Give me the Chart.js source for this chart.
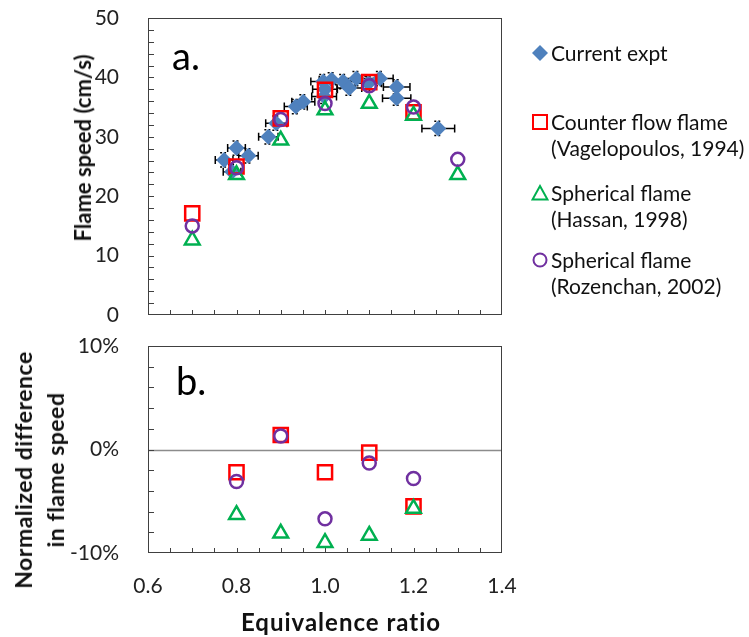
<!DOCTYPE html>
<html>
<head>
<meta charset="utf-8">
<script src="https://cdn.jsdelivr.net/npm/chart.js@4.4.1/dist/chart.umd.min.js"></script>
<style>
  body { margin: 0; background: #fff; font-family: Lato, sans-serif; }
  #wrap { position: relative; width: 749px; height: 637px; overflow: hidden; }
  .panel { position: absolute; left: 0; }
  .txt { position: absolute; white-space: nowrap; color: #111; }
  .rot { transform: translate(-50%, -50%) rotate(-90deg); text-align: center; }
  .title { font-weight: bold; line-height: 32px; }
  .leg { font-size: 21px; line-height: 26px; left: 551px; }
  .mk { position: absolute; left: 531px; width: 18px; height: 18px; }
</style>
</head>
<body>
<div id="wrap">
  <div class="panel" style="top:0"><canvas id="top" width="749" height="330"></canvas></div>
  <div class="panel" style="top:330px"><canvas id="bottom" width="749" height="307"></canvas></div>

  <div class="txt title rot" style="left:83px;top:148px;font-size:22px">Flame speed (cm/s)</div>
  <div class="txt title rot" style="left:39px;top:470px;font-size:23px;letter-spacing:0.5px">Normalized difference<br>in flame speed</div>
  <div class="txt title" style="left:341px;top:622px;font-size:24px;letter-spacing:1px;transform:translate(-50%,-50%)">Equivalence ratio</div>

  <svg class="mk" style="top:44px" viewBox="0 0 18 18"><path d="M9 1 L17 9 L9 17 L1 9 Z" fill="#4F81BD"/></svg>
  <div class="txt leg" style="top:40px">Current expt</div>

  <svg class="mk" style="top:113px" viewBox="0 0 18 18"><rect x="2" y="2" width="14" height="14" fill="none" stroke="#FF0000" stroke-width="2"/></svg>
  <div class="txt leg" style="top:109px">Counter flow flame<br>(Vagelopoulos, 1994)</div>

  <svg class="mk" style="top:184px" viewBox="0 0 18 18"><path d="M9 2 L16.5 15.5 L1.5 15.5 Z" fill="none" stroke="#00B050" stroke-width="2"/></svg>
  <div class="txt leg" style="top:180px">Spherical flame<br>(Hassan, 1998)</div>

  <svg class="mk" style="top:251px" viewBox="0 0 18 18"><circle cx="9" cy="9" r="6.5" fill="none" stroke="#7030A0" stroke-width="2"/></svg>
  <div class="txt leg" style="top:247px">Spherical flame<br>(Rozenchan, 2002)</div>
</div>

<script>
// current experiment (equivalence ratio, flame speed, horizontal error)
const exptPhi    = [0.772, 0.790, 0.800, 0.827, 0.872, 0.890, 0.934, 0.951, 0.996, 0.998, 1.000, 1.015, 1.041, 1.055, 1.071, 1.098, 1.124, 1.162, 1.162, 1.256];
const exptSpeed  = [26.1, 24.1, 28.1, 26.8, 30.0, 32.3, 35.1, 35.9, 39.3, 36.8, 38.0, 39.6, 39.3, 38.2, 39.8, 39.0, 39.8, 38.4, 36.5, 31.4];
const exptPhiErr = [0.020, 0.020, 0.020, 0.022, 0.022, 0.024, 0.026, 0.026, 0.028, 0.028, 0.028, 0.028, 0.028, 0.028, 0.030, 0.030, 0.030, 0.030, 0.032, 0.037];
const exptSpeedErr = 1.2;

// literature data
const phiRef       = [0.7, 0.8, 0.9, 1.0, 1.1, 1.2, 1.3];
const vagelopoulos = [17.1, 25.0, 33.1, 37.9, 39.2, 34.1, null];
const hassan       = [12.6, 23.6, 29.4, 34.5, 35.6, 33.6, 23.6];
const rozenchan    = [15.0, 24.8, 32.9, 35.6, 38.6, 35.0, 26.2];

// normalized difference (%)
const phiDiff = [0.8, 0.9, 1.0, 1.1, 1.2];
const diffVag = [-2.2, 1.4, -2.2, -0.3, -5.5];
const diffHas = [-6.3, -8.1, -9.0, -8.3, -5.7];
const diffRoz = [-3.1, 1.3, -6.7, -1.3, -2.8];

const phiTicks   = [0.6, 0.8, 1.0, 1.2, 1.4];
const speedTicks = [0, 10, 20, 30, 40, 50];
const diffTicks  = [-10, 0, 10];

const FONT = 'Lato';
const TICK_COLOR = '#222';

function pairs(xs, ys) {
  return xs.map((x, i) => ({ x: x, y: ys[i] })).filter(p => p.y !== null);
}

// frame, inside tick marks, zero line, error bars, panel letter
const framePlugin = {
  id: 'frame',
  beforeDatasetsDraw(chart, args, opts) {
    const { ctx, chartArea: a, scales: { x, y } } = chart;
    ctx.save();
    if (opts.zero) {
      const yz = Math.round(y.getPixelForValue(0)) + 0.5;
      ctx.strokeStyle = '#8c8c8c';
      ctx.lineWidth = 1.5;
      ctx.beginPath(); ctx.moveTo(a.left, yz); ctx.lineTo(a.right, yz); ctx.stroke();
    }
    ctx.strokeStyle = '#404040';
    ctx.lineWidth = 1;
    ctx.strokeRect(Math.round(a.left) + 0.5, Math.round(a.top) + 0.5, Math.round(a.width) - 1, Math.round(a.height) - 1);

    ctx.beginPath();
    for (let i = 1; i < 16; i++) {
      const px = Math.round(x.getPixelForValue(0.6 + i * 0.05)) + 0.5;
      ctx.moveTo(px, a.bottom); ctx.lineTo(px, a.bottom - 5);
    }
    const n = (y.max - y.min) / opts.yStep;
    for (let i = 1; i < n; i++) {
      const py = Math.round(y.getPixelForValue(y.min + i * opts.yStep)) + 0.5;
      ctx.moveTo(a.left, py); ctx.lineTo(a.left + 6, py);
    }
    ctx.stroke();

    if (opts.errors) {
      const meta = chart.getDatasetMeta(0);
      ctx.strokeStyle = '#000';
      ctx.lineWidth = 1.5;
      meta.data.forEach((pt, i) => {
        const xl = x.getPixelForValue(exptPhi[i] - exptPhiErr[i]);
        const xr = x.getPixelForValue(exptPhi[i] + exptPhiErr[i]);
        const yt = y.getPixelForValue(exptSpeed[i] + exptSpeedErr);
        const yb = y.getPixelForValue(exptSpeed[i] - exptSpeedErr);
        ctx.setLineDash([]);
        ctx.beginPath();
        ctx.moveTo(xl, pt.y); ctx.lineTo(xr, pt.y);
        ctx.moveTo(xl, pt.y - 4); ctx.lineTo(xl, pt.y + 4);
        ctx.moveTo(xr, pt.y - 4); ctx.lineTo(xr, pt.y + 4);
        ctx.stroke();
        ctx.setLineDash([2, 2]);
        ctx.beginPath();
        ctx.moveTo(pt.x - 4, yt); ctx.lineTo(pt.x + 4, yt);
        ctx.moveTo(pt.x - 4, yb); ctx.lineTo(pt.x + 4, yb);
        ctx.stroke();
      });
    }
    ctx.restore();
  },
  afterDraw(chart, args, opts) {
    const ctx = chart.ctx;
    ctx.save();
    ctx.fillStyle = '#000';
    ctx.font = '38px ' + FONT;
    ctx.textBaseline = 'alphabetic';
    ctx.fillText(opts.label, opts.lx, opts.ly);
    ctx.restore();
  }
};

function baseScales(yMin, yMax, yTicks, yFmt, showX, xHeight) {
  return {
    x: {
      type: 'linear', min: 0.6, max: 1.4,
      grid: { display: false }, border: { display: false },
      ticks: { display: showX, padding: 13, color: TICK_COLOR, font: { family: FONT, size: 21 },
               callback: v => v.toFixed(1) },
      afterBuildTicks: s => { s.ticks = phiTicks.map(v => ({ value: v })); },
      afterFit: s => { s.height = xHeight; s.paddingLeft = 0; s.paddingRight = 0; }
    },
    y: {
      type: 'linear', min: yMin, max: yMax,
      grid: { display: false }, border: { display: false },
      ticks: { padding: 21, color: TICK_COLOR, font: { family: FONT, size: 21 }, callback: yFmt },
      afterBuildTicks: s => { s.ticks = yTicks.map(v => ({ value: v })); },
      afterFit: s => { s.width = 148; s.paddingTop = 0; s.paddingBottom = 0; }
    }
  };
}

const markerStyles = {
  vag: { pointStyle: 'rect', radius: 10, borderColor: '#FF0000', backgroundColor: 'rgba(0,0,0,0)', borderWidth: 2.5 },
  has: { pointStyle: 'triangle', radius: 8.5, borderColor: '#00B050', backgroundColor: 'rgba(0,0,0,0)', borderWidth: 2.5 },
  roz: { pointStyle: 'circle', radius: 6.5, borderColor: '#7030A0', backgroundColor: 'rgba(0,0,0,0)', borderWidth: 2.5 }
};

new Chart(document.getElementById('top'), {
  type: 'scatter',
  data: {
    datasets: [
      { label: 'Current expt', data: pairs(exptPhi, exptSpeed), pointStyle: 'rectRot', radius: 8,
        backgroundColor: '#4F81BD', borderColor: '#4F81BD', borderWidth: 0, order: 4 },
      Object.assign({ label: 'Counter flow flame (Vagelopoulos, 1994)', data: pairs(phiRef, vagelopoulos), order: 3 }, markerStyles.vag),
      Object.assign({ label: 'Spherical flame (Hassan, 1998)', data: pairs(phiRef, hassan), order: 2 }, markerStyles.has),
      Object.assign({ label: 'Spherical flame (Rozenchan, 2002)', data: pairs(phiRef, rozenchan), order: 1 }, markerStyles.roz)
    ]
  },
  options: {
    responsive: false, animation: false,
    layout: { padding: { left: 0, top: 18, right: 247, bottom: 0 } },
    plugins: {
      legend: { display: false }, tooltip: { enabled: false },
      frame: { yStep: 2, errors: true, label: 'a.', lx: 172, ly: 70 }
    },
    scales: baseScales(0, 50, speedTicks, v => v, false, 15)
  },
  plugins: [framePlugin]
});

new Chart(document.getElementById('bottom'), {
  type: 'scatter',
  data: {
    datasets: [
      Object.assign({ label: 'Counter flow flame (Vagelopoulos, 1994)', data: pairs(phiDiff, diffVag), order: 3 }, markerStyles.vag),
      Object.assign({ label: 'Spherical flame (Hassan, 1998)', data: pairs(phiDiff, diffHas), order: 2 }, markerStyles.has),
      Object.assign({ label: 'Spherical flame (Rozenchan, 2002)', data: pairs(phiDiff, diffRoz), order: 1 }, markerStyles.roz)
    ]
  },
  options: {
    responsive: false, animation: false,
    layout: { padding: { left: 0, top: 16, right: 247, bottom: 0 } },
    plugins: {
      legend: { display: false }, tooltip: { enabled: false },
      frame: { yStep: 2, zero: true, label: 'b.', lx: 176, ly: 65 }
    },
    scales: baseScales(-10, 10, diffTicks, v => v + '%', true, 84)
  },
  plugins: [framePlugin]
});
</script>
</body>
</html>
